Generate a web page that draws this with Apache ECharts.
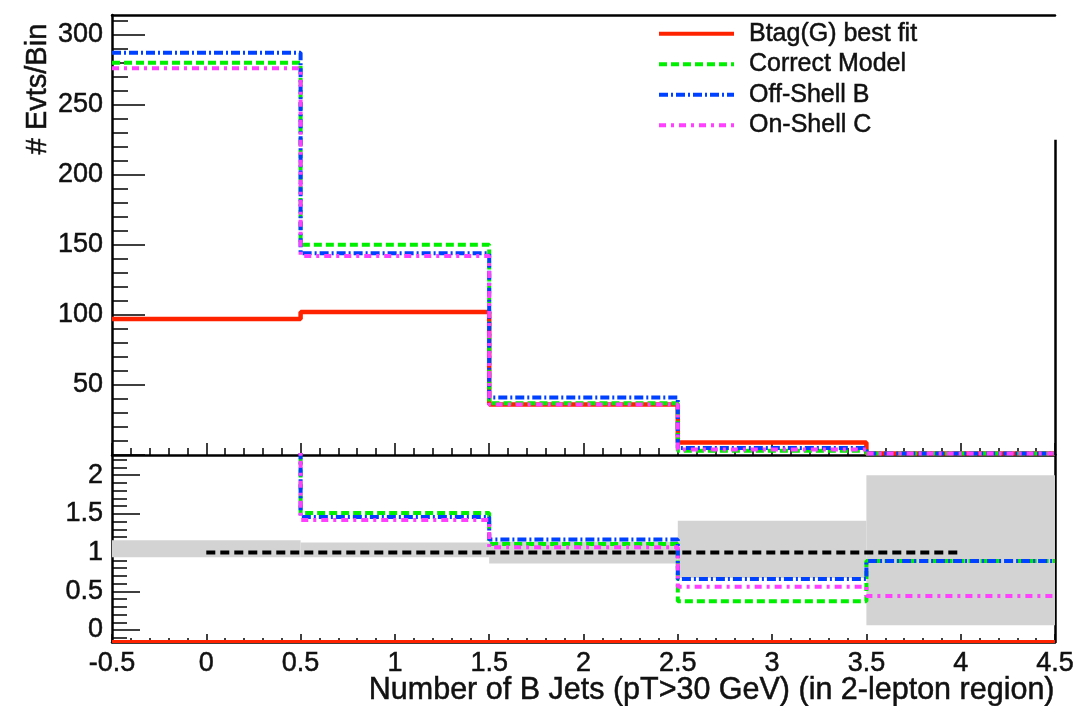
<!DOCTYPE html>
<html>
<head>
<meta charset="utf-8">
<script src="https://cdn.jsdelivr.net/npm/echarts@6/dist/echarts.min.js"></script>
<style>
html,body{margin:0;padding:0;background:#fff}
#chart{width:1081px;height:706px}
</style>
</head>
<body>
<div id="chart"></div>
<script>
// bin edges (number of B jets)
var binEdges = [-0.5, 0.5, 1.5, 2.5, 3.5, 4.5];
var seriesNames = ['Btag(G) best fit', 'Correct Model', 'Off-Shell B', 'On-Shell C'];

// upper panel: events per bin
var btagFit = [97, 102, 36, 9, 1];
var correctModel = [280, 150, 37, 3, 1];
var offShellB = [287, 144, 41, 5, 1];
var onShellC = [276, 142, 36, 4, 1];

// lower panel: ratios
var ratioCorrect = [2.89, 1.51, 1.11, 0.37, 0.89];
var ratioOffShellB = [2.96, 1.46, 1.17, 0.66, 0.89];
var ratioOnShellC = [2.85, 1.42, 1.07, 0.56, 0.44];
var bandLow = [0.94, 0.94, 0.86, 0.67, 0.06];
var bandHigh = [1.16, 1.13, 1.14, 1.41, 2.0];
var unityLine = [[0, 1], [4, 1]];

// ticks / labels
var topMajorTicks = [0, 50, 100, 150, 200, 250, 300];
var topLabels = [50, 100, 150, 200, 250, 300];
var topMinorTicks = [10, 20, 30, 40, 60, 70, 80, 90, 110, 120, 130, 140, 160, 170, 180, 190,
    210, 220, 230, 240, 260, 270, 280, 290, 310];
var lowMajorTicks = [0, 0.5, 1, 1.5, 2];
var lowMinorTicks = [-0.1, 0.1, 0.2, 0.3, 0.4, 0.6, 0.7, 0.8, 0.9, 1.1, 1.2, 1.3, 1.4,
    1.6, 1.7, 1.8, 1.9, 2.1, 2.2];

var topMax = 314, lowMin = -0.155, lowMax = 2.26;
var FONT = '"Liberation Sans", Arial, sans-serif';
var TXT = '#111';

var RED = '#ff2200', GREEN = '#00ee00', BLUE = '#0040ff', MAGENTA = '#ff40ff';

function stepData(vals){
    return binEdges.map(function(e, i){
        return [e, vals[Math.min(i, vals.length - 1)]];
    });
}

function stepSeries(name, vals, color, dash, axisIdx, width){
    return {
        name: name,
        type: 'line',
        step: 'end',
        xAxisIndex: axisIdx.x,
        yAxisIndex: axisIdx.y,
        data: stepData(vals),
        symbol: 'none',
        silent: true,
        z: 3,
        lineStyle: {color: color, width: width || 4, type: dash},
        itemStyle: {color: color}
    };
}

// heavier text, like the blurred ROOT fonts
function label(size){
    return {fontFamily: FONT, fontSize: size, color: TXT, textBorderColor: TXT, textBorderWidth: 0.5};
}

var chart = echarts.init(document.getElementById('chart'));

var blackLine = {onZero: false, lineStyle: {color: '#000', width: 2.5}};
var noLine = {show: false, onZero: false};
var tickStyle = {color: '#000', width: 1.5};

var option = {
    animation: false,
    backgroundColor: '#fff',
    textStyle: {fontFamily: FONT},
    grid: [
        {left: 112, right: 26, top: 15, height: 440},
        {left: 112, right: 26, top: 455, height: 187}
    ],
    title: {
        text: 'Number of B Jets (pT>30 GeV) (in 2-lepton region)',
        right: 26, top: 675, padding: 0,
        textStyle: Object.assign(label(30.5), {fontWeight: 'normal'})
    },
    graphic: [{
        type: 'text',
        x: 38, y: 89,
        rotation: Math.PI / 2,
        style: {
            text: '# Evts/Bin',
            font: '29px "Liberation Sans", Arial, sans-serif',
            fill: TXT,
            stroke: TXT,
            lineWidth: 0.5,
            textAlign: 'center',
            textVerticalAlign: 'middle'
        }
    }],
    legend: {
        data: seriesNames,
        orient: 'vertical',
        left: 657, top: 21,
        itemWidth: 75, itemHeight: 20, itemGap: 5,
        padding: 0,
        itemStyle: {opacity: 0},
        lineStyle: {width: 4},
        textStyle: Object.assign(label(25), {padding: [0, 0, 0, 10]})
    },
    xAxis: [
        {   // top panel bottom axis
            gridIndex: 0, type: 'value', position: 'bottom', min: -0.5, max: 4.5, interval: 0.5,
            axisLine: blackLine,
            axisTick: {inside: true, length: 12, lineStyle: tickStyle},
            minorTick: {show: true, splitNumber: 5, length: 7, lineStyle: tickStyle},
            axisLabel: {show: false},
            splitLine: {show: false}
        },
        {   // top frame
            gridIndex: 0, type: 'value', position: 'top', min: -0.5, max: 4.5, interval: 0.5,
            axisLine: blackLine,
            axisTick: {show: false}, axisLabel: {show: false}, splitLine: {show: false}
        },
        {   // lower panel axis
            gridIndex: 1, type: 'value', position: 'bottom', min: -0.5, max: 4.5, interval: 0.5,
            axisLine: blackLine,
            axisTick: {inside: true, length: 8, lineStyle: tickStyle},
            minorTick: {show: true, splitNumber: 5, length: 4, lineStyle: tickStyle},
            axisLabel: Object.assign(label(27), {margin: 8}),
            splitLine: {show: false}
        }
    ],
    yAxis: [
        {
            gridIndex: 0, type: 'value', position: 'left', min: 0, max: topMax,
            axisLine: blackLine,
            axisTick: {inside: true, length: 33, customValues: topMajorTicks, lineStyle: tickStyle},
            axisLabel: Object.assign(label(27), {customValues: topLabels, margin: 9}),
            splitLine: {show: false}
        },
        {
            gridIndex: 0, type: 'value', position: 'left', min: 0, max: topMax,
            axisLine: noLine,
            axisTick: {inside: true, length: 16, customValues: topMinorTicks, lineStyle: tickStyle},
            axisLabel: {show: false},
            splitLine: {show: false}
        },
        {
            gridIndex: 1, type: 'value', position: 'left', min: lowMin, max: lowMax,
            axisLine: blackLine,
            axisTick: {inside: true, length: 28, customValues: lowMajorTicks, lineStyle: tickStyle},
            axisLabel: Object.assign(label(27), {customValues: lowMajorTicks, margin: 9}),
            splitLine: {show: false}
        },
        {
            gridIndex: 1, type: 'value', position: 'left', min: lowMin, max: lowMax,
            axisLine: noLine,
            axisTick: {inside: true, length: 15, customValues: lowMinorTicks, lineStyle: tickStyle},
            axisLabel: {show: false},
            splitLine: {show: false}
        },
        {   // right frame of lower panel (mostly hidden by the band)
            gridIndex: 1, type: 'value', position: 'right', min: lowMin, max: lowMax,
            axisLine: blackLine,
            axisTick: {show: false}, axisLabel: {show: false}, splitLine: {show: false}
        }
    ],
    series: [
        // ---- upper panel
        (function(){
            var s = stepSeries(seriesNames[0], btagFit, RED, 'solid', {x: 0, y: 0}, 4.5);
            s.markLine = {
                silent: true, symbol: 'none', label: {show: false},
                lineStyle: {color: '#000', width: 2.5, type: 'solid'},
                data: [[{coord: [4.5, 0]}, {coord: [4.5, 225]}]]
            };
            return s;
        })(),
        stepSeries(seriesNames[1], correctModel, GREEN, [8, 4], {x: 0, y: 0}),
        stepSeries(seriesNames[2], offShellB, BLUE, [9, 3, 2, 3], {x: 0, y: 0}),
        stepSeries(seriesNames[3], onShellC, MAGENTA, [7, 5, 3, 5], {x: 0, y: 0}),

        // ---- lower panel
        {
            type: 'custom',
            xAxisIndex: 2, yAxisIndex: 2,
            silent: true,
            z: 2,
            encode: {x: [0, 1], y: [2, 3]},
            data: bandLow.map(function(lo, i){
                return [binEdges[i], binEdges[i + 1], lo, bandHigh[i]];
            }),
            renderItem: function(params, api){
                var p0 = api.coord([api.value(0), api.value(3)]);
                var p1 = api.coord([api.value(1), api.value(2)]);
                return {
                    type: 'rect',
                    shape: {x: p0[0], y: p0[1], width: p1[0] - p0[0], height: p1[1] - p0[1]},
                    style: {fill: '#d3d3d3'}
                };
            }
        },
        {
            type: 'line',
            xAxisIndex: 2, yAxisIndex: 2,
            data: unityLine,
            symbol: 'none', silent: true, z: 3,
            lineStyle: {color: '#000', width: 4, type: [9, 5]},
            markLine: {
                silent: true, symbol: 'none', label: {show: false},
                lineStyle: {color: RED, width: 3, type: 'solid'},
                data: [{yAxis: lowMin}]
            }
        },
        stepSeries('ratioCorrect', ratioCorrect, GREEN, [8, 4], {x: 2, y: 2}),
        stepSeries('ratioOffShellB', ratioOffShellB, BLUE, [9, 3, 2, 3], {x: 2, y: 2}),
        stepSeries('ratioOnShellC', ratioOnShellC, MAGENTA, [7, 5, 3, 5], {x: 2, y: 2})
    ]
};

chart.setOption(option);
</script>
</body>
</html>
